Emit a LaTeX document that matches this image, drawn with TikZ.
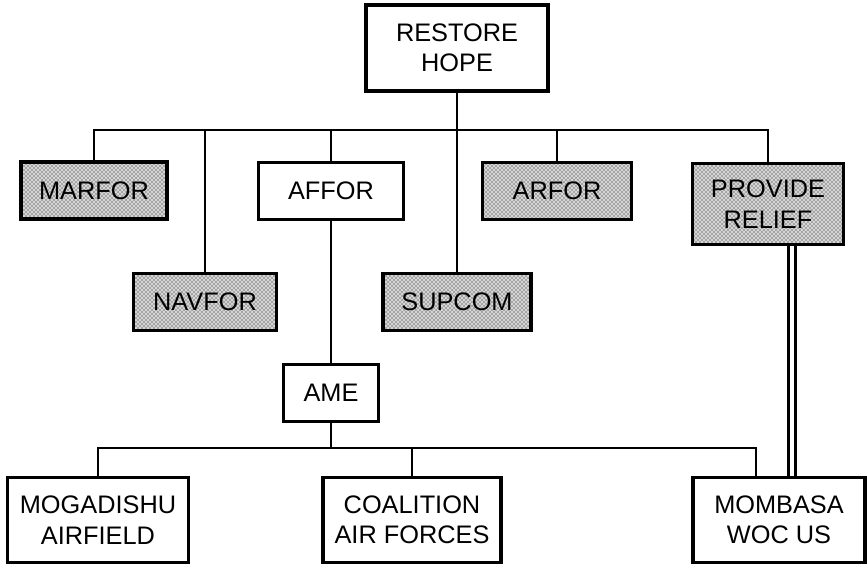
\documentclass[tikz,border=0pt]{standalone}
\usepackage{fontspec}
\setmainfont{Liberation Sans}
\usetikzlibrary{patterns}
\begin{document}
\begin{tikzpicture}[x=0.75pt,y=-0.75pt,
  box/.style={draw, line width=2.3pt, align=center, inner sep=0pt,
    font=\fontsize{19}{22.8}\selectfont, fill=white},
  shadebox/.style={box, preaction={fill=gray!32}, pattern=crosshatch dots, pattern color=black},
  link/.style={line width=2pt},
  dbl/.style={line width=2.4pt, double=white, double distance=2.6pt}]
\useasboundingbox (0,0) rectangle (868,566);
% boxes
\node[box, minimum width=182*0.75pt, minimum height=86*0.75pt] (rh) at (457,48) {RESTORE\\HOPE};
\node[shadebox, minimum width=146*0.75pt, minimum height=57*0.75pt] (mar) at (94,190.5) {MARFOR};
\node[box, minimum width=145*0.75pt, minimum height=57*0.75pt] (af) at (331,191) {AFFOR};
\node[shadebox, minimum width=149*0.75pt, minimum height=57*0.75pt] (ar) at (557,191) {ARFOR};
\node[shadebox, minimum width=151*0.75pt, minimum height=81*0.75pt] (pr) at (768,204) {PROVIDE\\RELIEF};
\node[shadebox, minimum width=143*0.75pt, minimum height=57*0.75pt] (nav) at (205,302) {NAVFOR};
\node[shadebox, minimum width=148*0.75pt, minimum height=57*0.75pt] (sup) at (457,302) {SUPCOM};
\node[box, minimum width=95*0.75pt, minimum height=57*0.75pt] (ame) at (331,393) {AME};
\node[box, minimum width=181*0.75pt, minimum height=85*0.75pt] (mog) at (98,520) {MOGADISHU\\AIRFIELD};
\node[box, minimum width=178*0.75pt, minimum height=85*0.75pt] (coa) at (412,520) {COALITION\\AIR FORCES};
\node[box, minimum width=172*0.75pt, minimum height=85*0.75pt] (mom) at (779,520) {MOMBASA\\WOC US};
% helper coordinates
\coordinate (b1) at (0,130);
\coordinate (b2) at (0,448);
\coordinate (md) at (756,448);
\coordinate (dl) at (792,0);
% connectors
\draw[link] (rh.south) -- (sup.north);
\draw[link] (mar.north) -- (mar.north |- b1) -- (pr.north |- b1) -- (pr.north);
\draw[link] (nav.north) -- (nav.north |- b1);
\draw[link] (af.north) -- (af.north |- b1);
\draw[link] (ar.north) -- (ar.north |- b1);
\draw[link] (af.south) -- (ame.north);
\draw[link] (ame.south) -- (ame.south |- b2);
\draw[link] (mog.north) -- (mog.north |- b2) -- (md) -- (md |- mom.north);
\draw[link] (coa.north) -- (coa.north |- b2);
\draw[dbl] (pr.south -| dl) -- (mom.north -| dl);
\end{tikzpicture}
\end{document}
